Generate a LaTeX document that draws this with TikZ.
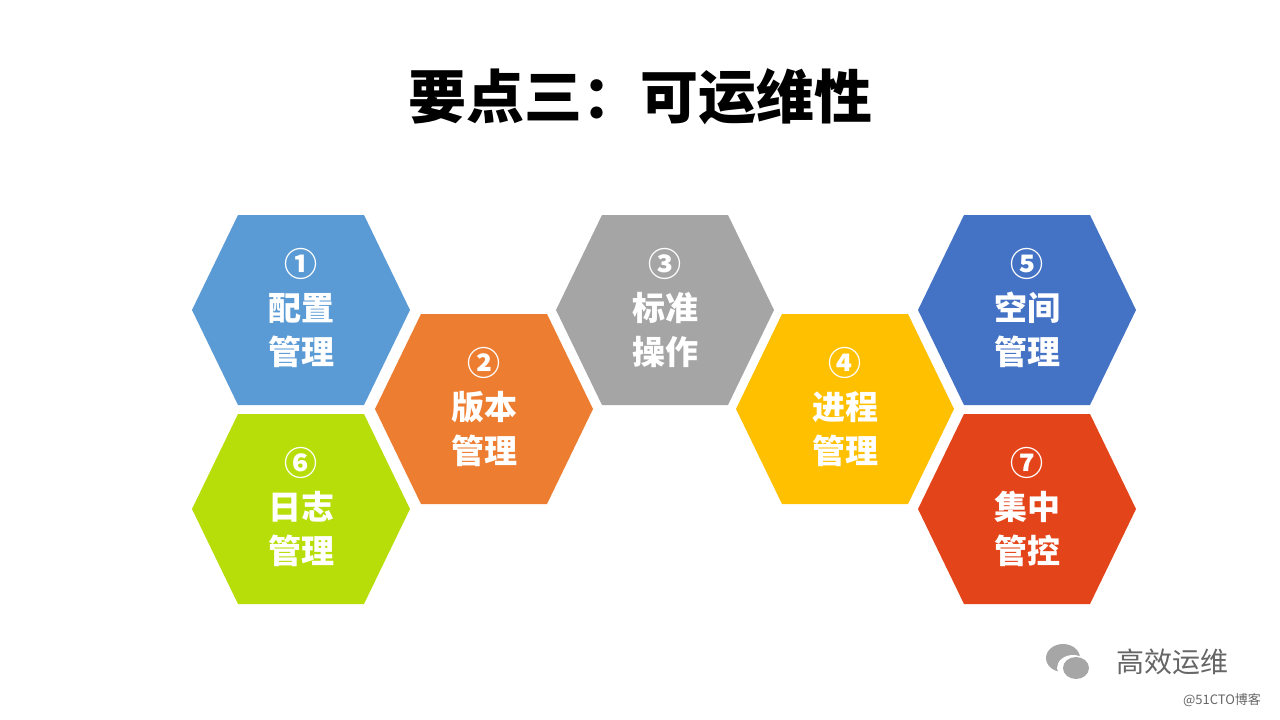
\documentclass[tikz,border=0pt]{standalone}
\usepackage{fontspec}
\newfontfamily\cjk{Noto Sans CJK SC}
\definecolor{c1}{HTML}{5B9BD5}
\definecolor{c2}{HTML}{ED7D31}
\definecolor{c3}{HTML}{A5A5A5}
\definecolor{c4}{HTML}{FFC000}
\definecolor{c5}{HTML}{4472C4}
\definecolor{c6}{HTML}{B8DE0A}
\definecolor{c7}{HTML}{E4441A}
\tikzset{hextext/.style={text=white,font=\cjk\bfseries\fontsize{33}{44}\selectfont,align=center}}
\newcommand\hexa[5]{%
\fill[#3] (#1-109,#2) -- (#1-63,#2-95) -- (#1+63,#2-95) -- (#1+109,#2) -- (#1+63,#2+95) -- (#1-63,#2+95) -- cycle;
\node[hextext] (#4) at (#1,#2-2) {#5};}
\begin{document}
\begin{tikzpicture}[x=1pt,y=-1pt]
\useasboundingbox (0,0) rectangle (1280,720);
\fill[white] (0,0) rectangle (1280,720);
\node[font=\cjk\bfseries\fontsize{58}{66}\selectfont] (title) at (640,97) {要点三：可运维性};
\hexa{301}{310}{c1}{h1}{①\\配置\\管理}
\hexa{484}{409}{c2}{h2}{②\\版本\\管理}
\hexa{665}{310}{c3}{h3}{③\\标准\\操作}
\hexa{845}{409}{c4}{h4}{④\\进程\\管理}
\hexa{1027}{310}{c5}{h5}{⑤\\空间\\管理}
\hexa{301}{509}{c6}{h6}{⑥\\日志\\管理}
\hexa{1027}{509}{c7}{h7}{⑦\\集中\\管控}
\fill[gray!70] (1063,658) ellipse (17 and 14);
\fill[white] (1073,668) ellipse (16 and 13);
\fill[gray!70] (1076,668) ellipse (13 and 11);
\node[text=gray!80!black,font=\cjk\fontsize{28}{32}\selectfont] (wm) at (1172,662) {高效运维};
\node[text=gray!80!black,font=\cjk\fontsize{13}{15}\selectfont] (blog) at (1222,700) {@51CTO博客};
\end{tikzpicture}
\end{document}
